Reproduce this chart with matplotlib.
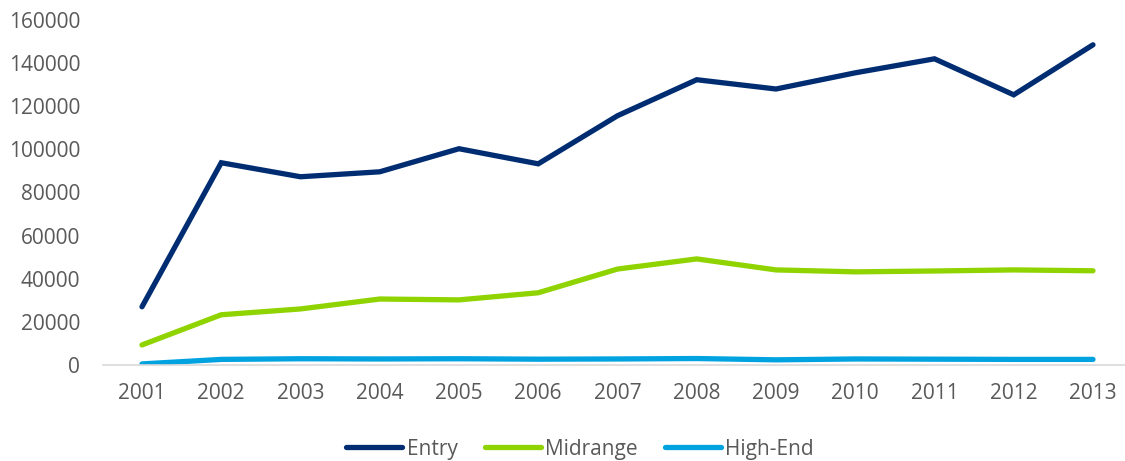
import matplotlib.pyplot as plt

years = [2001, 2002, 2003, 2004, 2005, 2006, 2007, 2008, 2009, 2010, 2011, 2012, 2013]
entry = [27000, 93800, 87300, 89600, 100300, 93300, 115600, 132300, 128000, 135500, 142000, 125300, 148500]
midrange = [9300, 23300, 26000, 30600, 30200, 33500, 44500, 49200, 44100, 43200, 43600, 44100, 43700]
high_end = [500, 2600, 2900, 2800, 2900, 2700, 2800, 3000, 2400, 2800, 2700, 2600, 2600]

series = [("Entry", entry, "#002d72"),
          ("Midrange", midrange, "#8fd400"),
          ("High-End", high_end, "#00a3e0")]

plt.rcParams["font.family"] = ["Open Sans", "DejaVu Sans"]
text_color = "#595959"

fig = plt.figure(figsize=(11.25, 4.61), dpi=100)
ax = fig.add_axes([103 / 1125, 96 / 461, 1022 / 1125, 345 / 461])

for name, vals, color in series:
    ax.plot(years, vals, color=color, linewidth=3.8, label=name,
            solid_capstyle="round", solid_joinstyle="miter")

ax.set_xlim(2000.508, 2013.404)
ax.set_ylim(0, 160000)
ax.set_xticks(years)
ax.set_yticks(range(0, 160001, 20000))

for side in ["top", "right", "left"]:
    ax.spines[side].set_visible(False)
ax.spines["bottom"].set_color("#d9d9d9")
ax.spines["bottom"].set_linewidth(1.2)
ax.tick_params(axis="both", length=0, labelsize=15, colors=text_color)
ax.tick_params(axis="x", pad=13)
ax.tick_params(axis="y", pad=16.5)

leg = fig.legend(loc="center", bbox_to_anchor=(580 / 1125, 1 - 449 / 461), ncol=3,
                 frameon=False, fontsize=15, handlelength=2.7, handletextpad=0.2,
                 columnspacing=1.3, labelcolor=text_color)

fig.savefig("out.png", dpi=100)
